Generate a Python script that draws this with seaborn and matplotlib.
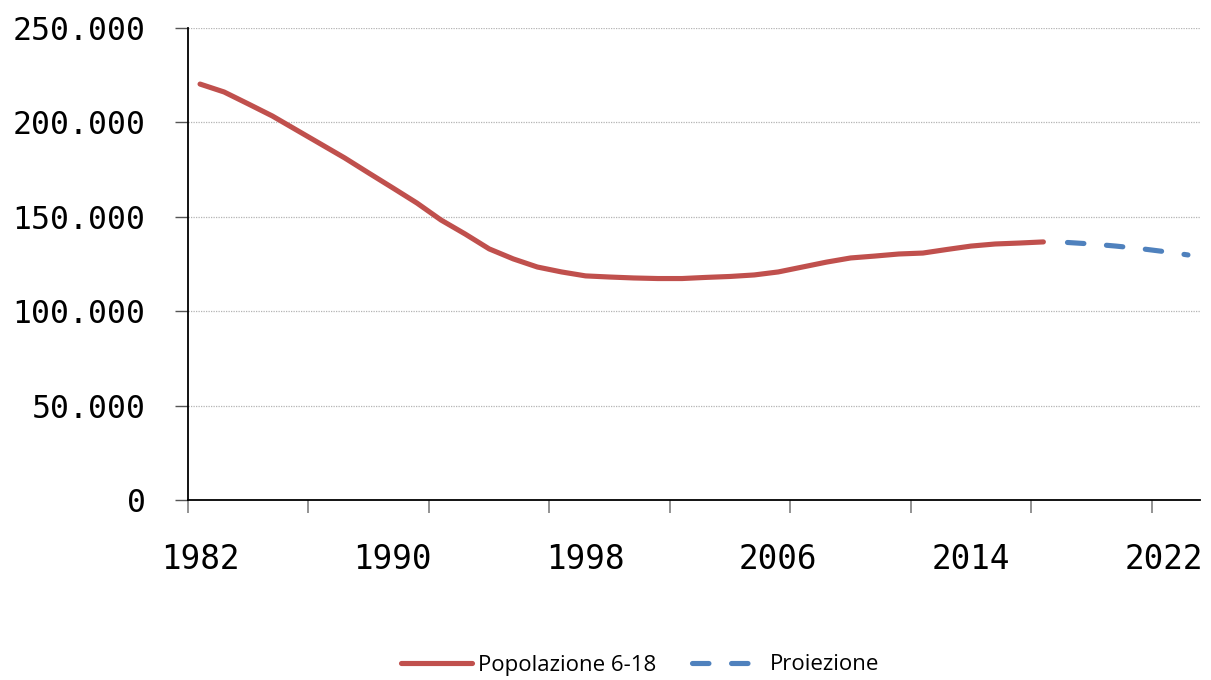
import numpy as np
import pandas as pd
import matplotlib
matplotlib.use("Agg")
import matplotlib.pyplot as plt
import seaborn as sns
from matplotlib.ticker import FuncFormatter, FixedLocator

# --- data ---
years = list(range(1982, 2018))
popolazione = [220300, 216100, 209800, 203400, 196000, 188600, 181200, 173200,
               165300, 157300, 148300, 140900, 133000, 127700, 123400, 120800,
               118700, 118100, 117600, 117300, 117300, 117900, 118400, 119200,
               120800, 123400, 126000, 128200, 129200, 130300, 130800, 132700,
               134500, 135600, 136100, 136700]
proj_years = [2018, 2019, 2020, 2021, 2022, 2023]
proiezione = [136400, 135600, 134500, 133200, 131600, 129800]
label_years = [1982, 1990, 1998, 2006, 2014, 2022]

df_pop = pd.DataFrame({"anno": years, "valore": popolazione})
df_proj = pd.DataFrame({"anno": proj_years, "valore": proiezione})

sns.set_style("white")
red = "#C0504D"
blue = "#4F81BD"

fig = plt.figure(figsize=(12.11, 6.8), dpi=100)
ax = fig.add_axes([188 / 1211, 1 - 500 / 680, (1200 - 188) / 1211, (500 - 28) / 680])

sns.lineplot(data=df_pop, x="anno", y="valore", ax=ax, color=red, linewidth=3.7,
             solid_capstyle="round", label="Popolazione 6-18")
sns.lineplot(data=df_proj, x="anno", y="valore", ax=ax, color=blue, linewidth=3.7,
             dashes=False, label="Proiezione")
proj_line = ax.get_lines()[-1]
proj_line.set_dashes((3.2, 4.4))
proj_line.set_dash_capstyle("round")

ax.set_xlim(1981.5, 2023.5)
ax.set_ylim(0, 250000)
ax.set_xlabel("")
ax.set_ylabel("")

ax.yaxis.set_major_locator(FixedLocator(np.arange(0, 250001, 50000)))
ax.yaxis.set_major_formatter(FuncFormatter(lambda v, p: f"{int(v):,}".replace(",", ".")))
ax.grid(axis="y", color="#b4b4b4", linestyle=(0, (1, 1)), linewidth=0.9)
ax.set_axisbelow(True)

ax.xaxis.set_major_locator(FixedLocator(label_years))
ax.xaxis.set_minor_locator(FixedLocator(np.arange(1981.5, 2024, 5)))
ax.tick_params(axis="x", which="major", bottom=True, length=0, pad=31, labelsize=23.5,
               labelcolor="black")
ax.tick_params(axis="x", which="minor", bottom=True, length=9.5, width=1.3, color="#8a8a8a",
               direction="out")
ax.tick_params(axis="y", which="major", left=True, length=9.5, width=1.0, color="#555555",
               pad=21, labelsize=22.7, labelcolor="black", direction="out")
for lbl in ax.get_xticklabels() + ax.get_yticklabels():
    lbl.set_family("DejaVu Sans Mono")

for s in ["top", "right"]:
    ax.spines[s].set_visible(False)
for s in ["left", "bottom"]:
    ax.spines[s].set_color("black")
    ax.spines[s].set_linewidth(1.3)

leg = ax.legend(loc="center", bbox_to_anchor=(640 / 1211, 1 - 665 / 680),
                bbox_transform=fig.transFigure, ncol=2, frameon=False,
                handlelength=3.2, columnspacing=1.6, handletextpad=0.3,
                prop={"family": "Open Sans", "size": 16})
for t in leg.get_texts():
    t.set_color("black")
leg.get_lines()[1].set_dashes((3.2, 4.4))

fig.savefig("out.png", dpi=100)
